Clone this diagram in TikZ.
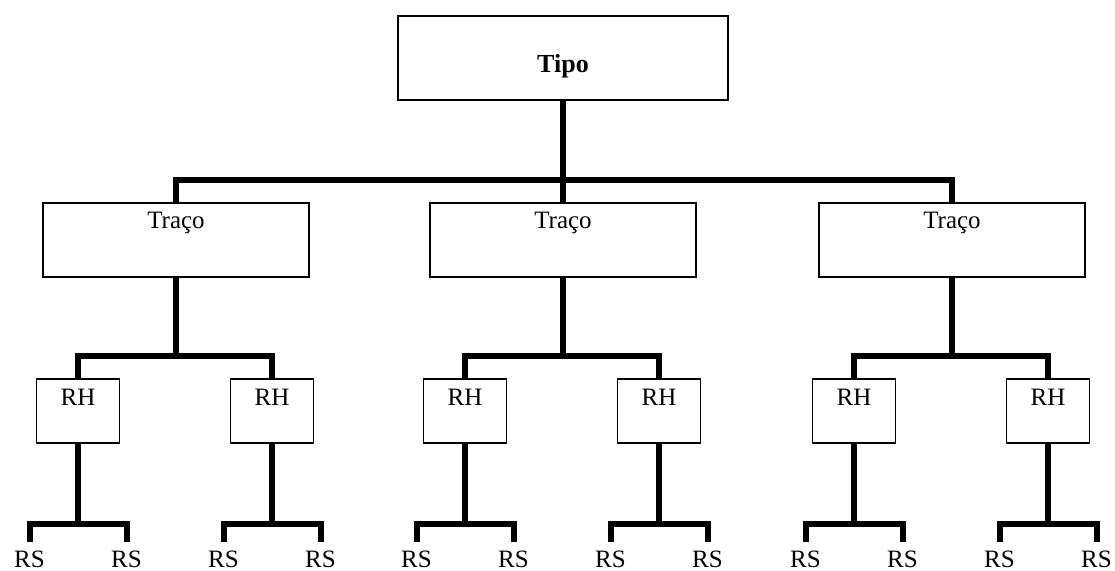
\documentclass[tikz,border=0pt]{standalone}
\usepackage{fontspec}
\setmainfont{Liberation Serif}
\begin{document}
\begin{tikzpicture}[x=0.5pt, y=-0.5pt,
	caixa/.style={draw, line width=0.8pt, rectangle, inner xsep=0pt, inner ysep=0pt, anchor=north},
	tipobox/.style={caixa, minimum width=165pt, text height=28.5pt, text depth=13.5pt, font=\fontsize{13}{15}\selectfont\bfseries},
	tracobox/.style={caixa, minimum width=133pt, text height=13pt, text depth=24pt, font=\fontsize{12.5}{15}\selectfont},
	rhbox/.style={caixa, minimum width=41.5pt, text height=13.5pt, text depth=18.5pt, font=\fontsize{12.5}{15}\selectfont},
	folha/.style={inner sep=4pt, anchor=base, font=\fontsize{12.5}{15}\selectfont},
	ramo/.style={line width=3pt}]
	\useasboundingbox (0,0) rectangle (1115,570);
	
	% Raiz
	\node[tipobox] (tipo) at (563,15) {Tipo};
	
	% Tracos
	\foreach \n/\x in {a/176, b/563, c/952} {
		\node[tracobox] (t\n) at (\x,202) {Traço};
		\draw[ramo] (tipo.south) -- ++(0,79) -| (t\n.north);
		% RH e RS
		\foreach \s/\dx in {1/-98, 2/96} {
			\node[rhbox] (h\n\s) at (\x+\dx,378) {RH};
			\draw[ramo] (t\n.south) -- ++(0,78) -| (h\n\s.north);
			\foreach \k/\ddx in {1/-48.5, 2/48.5} {
				\node[folha] (s\n\s\k) at (\x+\dx+\ddx,567) {RS};
				\draw[ramo] (h\n\s.south) -- ++(0,80) -| (s\n\s\k.north);
			}
		}
	}
\end{tikzpicture}
\end{document}
